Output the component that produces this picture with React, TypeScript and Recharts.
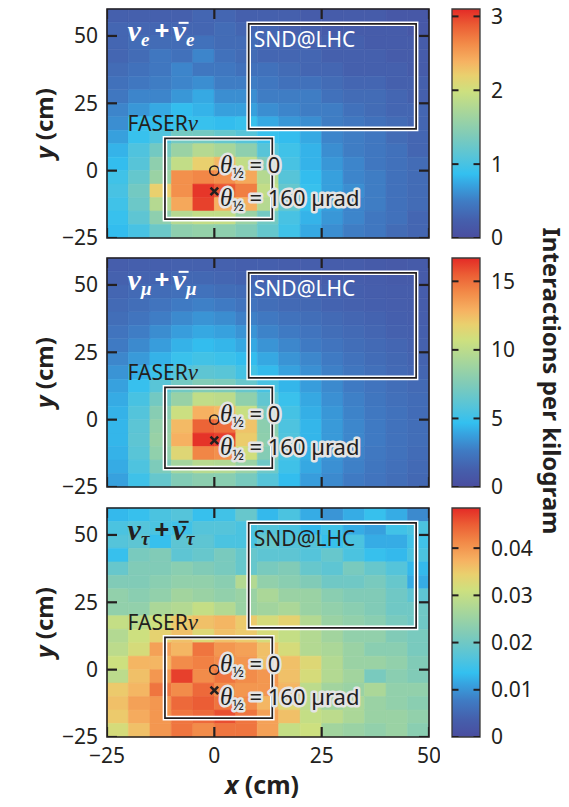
import React from 'react';
import { ComposedChart, XAxis, YAxis, ReferenceArea, ReferenceDot, Scatter } from 'recharts';

// 5 cm bins across the LHC tunnel cross-section
const xEdges = [-25, -20, -15, -10, -5, 0, 5, 10, 15, 20, 25, 30, 35, 40, 45, 50];
const yEdges = [-25, -20, -15, -10, -5, 0, 5, 10, 15, 20, 25, 30, 35, 40, 45, 50, 55, 60];
const xTicks = [-25, 0, 25, 50];
const yTicks = [-25, 0, 25, 50];

// interactions per kg; rows run from y = 55..60 cm (top) down to y = -25..-20 cm
const nuE = [
  [0.25, 0.25, 0.25, 0.25, 0.3, 0.3, 0.25, 0.25, 0.25, 0.2, 0.2, 0.2, 0.2, 0.15, 0.15],
  [0.3, 0.3, 0.3, 0.3, 0.3, 0.35, 0.3, 0.3, 0.25, 0.25, 0.2, 0.2, 0.2, 0.2, 0.15],
  [0.3, 0.35, 0.35, 0.35, 0.4, 0.35, 0.35, 0.3, 0.3, 0.25, 0.25, 0.25, 0.2, 0.2, 0.2],
  [0.3, 0.35, 0.45, 0.4, 0.55, 0.4, 0.35, 0.3, 0.3, 0.3, 0.25, 0.25, 0.25, 0.2, 0.2],
  [0.35, 0.4, 0.45, 0.55, 0.45, 0.45, 0.4, 0.4, 0.35, 0.3, 0.3, 0.25, 0.25, 0.25, 0.2],
  [0.4, 0.45, 0.5, 0.55, 0.6, 0.5, 0.5, 0.45, 0.4, 0.4, 0.35, 0.3, 0.3, 0.25, 0.25],
  [0.45, 0.55, 0.55, 0.65, 0.75, 0.6, 0.6, 0.5, 0.5, 0.5, 0.4, 0.35, 0.35, 0.3, 0.25],
  [0.55, 0.65, 0.75, 0.85, 0.8, 0.7, 0.7, 0.6, 0.55, 0.5, 0.5, 0.4, 0.35, 0.3, 0.3],
  [0.6, 0.85, 0.85, 0.9, 0.9, 0.85, 0.9, 0.75, 0.65, 0.6, 0.5, 0.45, 0.4, 0.35, 0.3],
  [0.7, 0.9, 1.05, 1.3, 1.3, 1.2, 1.1, 0.9, 0.85, 0.75, 0.55, 0.5, 0.45, 0.35, 0.3],
  [0.8, 1.05, 1.3, 1.6, 1.8, 1.7, 1.5, 1.1, 0.95, 0.8, 0.6, 0.5, 0.45, 0.4, 0.3],
  [0.85, 1.1, 1.5, 1.9, 2.2, 2.35, 1.9, 1.4, 1.0, 0.8, 0.65, 0.55, 0.45, 0.4, 0.35],
  [0.95, 1.2, 1.6, 2.6, 2.65, 2.6, 2.45, 1.8, 1.1, 0.85, 0.7, 0.55, 0.5, 0.4, 0.35],
  [1.0, 1.3, 2.2, 2.6, 3.05, 2.9, 2.7, 1.9, 1.2, 0.9, 0.7, 0.6, 0.5, 0.4, 0.35],
  [0.95, 1.25, 1.8, 2.45, 3.0, 2.4, 2.4, 1.8, 1.2, 0.9, 0.7, 0.55, 0.5, 0.4, 0.35],
  [0.9, 1.15, 1.5, 1.8, 1.9, 1.9, 1.6, 1.3, 1.0, 0.8, 0.65, 0.55, 0.45, 0.4, 0.3],
  [0.85, 1.0, 1.25, 1.5, 1.55, 1.5, 1.4, 1.2, 0.95, 0.75, 0.6, 0.5, 0.45, 0.35, 0.3],
];

const nuMu = [
  [1.2, 1.3, 1.3, 1.4, 1.4, 1.4, 1.3, 1.3, 1.2, 1.2, 1.1, 1.1, 1.0, 0.9, 1.0],
  [1.4, 1.5, 1.5, 1.7, 1.7, 1.6, 1.5, 1.4, 1.4, 1.3, 1.2, 1.2, 1.1, 1.0, 1.0],
  [1.6, 1.8, 1.9, 2.1, 2.2, 2.0, 1.9, 1.7, 1.6, 1.5, 1.4, 1.3, 1.2, 1.1, 1.1],
  [1.8, 2.0, 2.3, 2.6, 2.8, 2.6, 2.3, 2.0, 1.8, 1.7, 1.5, 1.4, 1.3, 1.2, 1.1],
  [2.0, 2.3, 2.7, 3.1, 3.4, 3.2, 2.8, 2.5, 2.2, 2.0, 1.8, 1.6, 1.5, 1.3, 1.2],
  [2.3, 2.7, 3.2, 3.7, 4.0, 3.8, 3.4, 2.9, 2.6, 2.3, 2.0, 1.8, 1.6, 1.4, 1.3],
  [2.6, 3.1, 3.7, 4.3, 4.6, 4.4, 4.0, 3.4, 3.0, 2.6, 2.3, 2.0, 1.8, 1.6, 1.4],
  [3.0, 3.6, 4.3, 4.9, 5.2, 5.0, 4.6, 4.0, 3.4, 3.0, 2.6, 2.2, 1.9, 1.7, 1.5],
  [3.4, 4.2, 5.0, 5.8, 6.2, 6.0, 5.3, 4.5, 3.8, 3.3, 2.8, 2.4, 2.1, 1.8, 1.6],
  [3.8, 4.8, 6.0, 7.0, 7.6, 7.4, 6.6, 5.4, 4.4, 3.7, 3.1, 2.6, 2.3, 2.0, 1.8],
  [4.1, 5.4, 7.0, 8.5, 10.2, 10.0, 8.2, 6.3, 4.9, 4.0, 3.3, 2.8, 2.4, 2.1, 1.9],
  [4.3, 5.8, 7.8, 10.6, 12.9, 12.6, 10.5, 7.2, 5.3, 4.2, 3.5, 2.9, 2.5, 2.2, 1.9],
  [4.4, 6.1, 8.3, 12.6, 15.3, 15.0, 12.3, 8.0, 5.6, 4.4, 3.6, 3.0, 2.6, 2.2, 2.0],
  [4.4, 6.2, 8.5, 12.9, 16.5, 16.2, 12.0, 8.1, 5.7, 4.4, 3.6, 3.0, 2.6, 2.2, 2.0],
  [4.3, 6.0, 8.2, 11.4, 14.3, 14.0, 10.8, 7.7, 5.5, 4.3, 3.5, 2.9, 2.5, 2.2, 1.9],
  [4.1, 5.6, 7.4, 9.0, 9.8, 9.6, 8.6, 6.8, 5.1, 4.0, 3.3, 2.8, 2.4, 2.1, 1.8],
  [3.8, 5.1, 6.5, 7.6, 8.0, 7.9, 7.2, 5.9, 4.6, 3.7, 3.1, 2.6, 2.3, 2.0, 1.7],
];

const nuTau = [
  [0.013, 0.014, 0.016, 0.017, 0.014, 0.015, 0.019, 0.013, 0.016, 0.012, 0.010, 0.012, 0.014, 0.012, 0.009],
  [0.016, 0.017, 0.016, 0.015, 0.017, 0.017, 0.016, 0.017, 0.016, 0.013, 0.015, 0.012, 0.011, 0.015, 0.016],
  [0.017, 0.018, 0.014, 0.018, 0.018, 0.016, 0.016, 0.019, 0.017, 0.017, 0.014, 0.016, 0.012, 0.012, 0.015],
  [0.014, 0.021, 0.022, 0.018, 0.019, 0.021, 0.019, 0.018, 0.018, 0.017, 0.019, 0.016, 0.014, 0.013, 0.016],
  [0.019, 0.022, 0.022, 0.023, 0.022, 0.021, 0.019, 0.021, 0.022, 0.019, 0.018, 0.021, 0.019, 0.017, 0.013],
  [0.022, 0.022, 0.023, 0.024, 0.024, 0.023, 0.028, 0.024, 0.023, 0.022, 0.020, 0.020, 0.021, 0.019, 0.012],
  [0.024, 0.023, 0.024, 0.026, 0.025, 0.024, 0.025, 0.027, 0.025, 0.025, 0.023, 0.022, 0.022, 0.020, 0.018],
  [0.024, 0.024, 0.027, 0.028, 0.030, 0.028, 0.025, 0.026, 0.027, 0.025, 0.024, 0.023, 0.022, 0.020, 0.020],
  [0.030, 0.029, 0.031, 0.035, 0.036, 0.037, 0.035, 0.032, 0.034, 0.028, 0.025, 0.024, 0.023, 0.021, 0.020],
  [0.028, 0.031, 0.034, 0.036, 0.033, 0.036, 0.035, 0.032, 0.030, 0.028, 0.026, 0.024, 0.024, 0.022, 0.021],
  [0.029, 0.032, 0.039, 0.037, 0.043, 0.040, 0.039, 0.036, 0.032, 0.028, 0.027, 0.025, 0.023, 0.023, 0.021],
  [0.031, 0.037, 0.037, 0.041, 0.042, 0.041, 0.040, 0.036, 0.036, 0.033, 0.028, 0.025, 0.025, 0.024, 0.022],
  [0.029, 0.036, 0.040, 0.047, 0.041, 0.043, 0.041, 0.040, 0.036, 0.032, 0.028, 0.026, 0.021, 0.023, 0.022],
  [0.035, 0.037, 0.043, 0.041, 0.044, 0.041, 0.040, 0.040, 0.037, 0.029, 0.026, 0.025, 0.027, 0.024, 0.024],
  [0.036, 0.039, 0.040, 0.044, 0.045, 0.043, 0.041, 0.037, 0.033, 0.029, 0.026, 0.027, 0.025, 0.024, 0.023],
  [0.035, 0.038, 0.040, 0.043, 0.044, 0.046, 0.043, 0.039, 0.036, 0.030, 0.029, 0.027, 0.025, 0.025, 0.024],
  [0.032, 0.036, 0.040, 0.043, 0.041, 0.043, 0.043, 0.039, 0.030, 0.031, 0.026, 0.025, 0.024, 0.025, 0.023],
];

// colour scale ranges and their tick values
const eRange = [0, 3.1];
const muRange = [0, 16.7];
const tauRange = [0, 0.0485];
const eTicks = [0, 1, 2, 3];
const muTicks = [0, 5, 10, 15];
const tauTicks = [0, 0.01, 0.02, 0.03, 0.04];

// detector front faces (cm) and beam-axis markers
const faserNu = { x1: -11.5, x2: 13.5, y1: -18, y2: 12 };
const sndLhc = { x1: 8, x2: 47, y1: 15.5, y2: 54.5 };
const onAxis = [{ x: 0, y: 0 }];
const offAxis = [{ x: 0, y: -7.7 }];

const X_DOM = [-25, 50];
const Y_DOM = [-25, 60];

const FONT = '"Noto Sans", "Open Sans", sans-serif';
const SERIF = '"Liberation Serif", "DejaVu Serif", serif';
const INK = '#231f20';

const cmap: [number, string][] = [
  [0.0, '#4a4d9f'],
  [0.08, '#4560ad'],
  [0.16, '#3f7cc4'],
  [0.23, '#37a2df'],
  [0.28, '#33c0f0'],
  [0.35, '#55c4da'],
  [0.45, '#80cbb8'],
  [0.55, '#a8d69a'],
  [0.64, '#cde07f'],
  [0.71, '#e9d06e'],
  [0.77, '#f6b262'],
  [0.85, '#f28a48'],
  [0.93, '#eb5c34'],
  [1.0, '#e42a26'],
];

const hex = (h: string) => [1, 3, 5].map((i) => parseInt(h.slice(i, i + 2), 16));

function colorFor(v: number, max: number) {
  const t = Math.max(0, Math.min(1, v / max));
  let i = 1;
  while (i < cmap.length - 1 && cmap[i][0] < t) i++;
  const [t0, c0] = cmap[i - 1];
  const [t1, c1] = cmap[i];
  const f = (t - t0) / (t1 - t0);
  const a = hex(c0);
  const b = hex(c1);
  const c = a.map((ch, k) => Math.round(ch + (b[k] - ch) * f));
  return `rgb(${c[0]},${c[1]},${c[2]})`;
}

function cellsOf(grid: number[][]) {
  const n = grid.length;
  return grid.flatMap((row, r) =>
    row.map((v, c) => ({ x1: xEdges[c], x2: xEdges[c + 1], y1: yEdges[n - 1 - r], y2: yEdges[n - r], v }))
  );
}

const fmt = (v: number) => (v < 0 ? `\u2212${-v}` : `${v}`);
const tickStyle = { fill: INK, fontSize: 21, fontFamily: FONT };

// short inward tick drawn at a scaled point
const tickMark = (dx: number, dy: number, w = 2.2) => (p: any) => (
  <line x1={p.cx} y1={p.cy} x2={p.cx + dx} y2={p.cy + dy} stroke={INK} strokeWidth={w} />
);

// tick anchor points along each edge of the frame
const bottomTicks = xTicks.map((x) => ({ x, y: Y_DOM[0] }));
const topTicks = xTicks.map((x) => ({ x, y: Y_DOM[1] }));
const leftTicks = yTicks.map((y) => ({ x: X_DOM[0], y }));
const rightTicks = yTicks.map((y) => ({ x: X_DOM[1], y }));

function YTitle(props: any) {
  const vb = props.viewBox;
  const cx = vb.x + 43;
  const cy = vb.y + vb.height / 2;
  return (
    <text x={cx} y={cy} transform={`rotate(-90 ${cx} ${cy})`} textAnchor="middle" dominantBaseline="central"
      fontFamily={FONT} fontWeight={700} fontSize={24} fill={INK}>
      <tspan fontStyle="italic">y</tspan> (cm)
    </text>
  );
}

function XTitle(props: any) {
  const vb = props.viewBox;
  return (
    <text x={vb.x + vb.width / 2 - 6} y={vb.y + 57} textAnchor="middle" fontFamily={FONT} fontWeight={700}
      fontSize={25} fill={INK}>
      <tspan fontStyle="italic">x</tspan> (cm)
    </text>
  );
}

const Ring = (p: any) => <circle cx={p.cx} cy={p.cy} r={4.6} fill="none" stroke={INK} strokeWidth={1.6} />;
const Cross = (p: any) => (
  <path d={`M${p.cx - 3.8},${p.cy - 3.8}L${p.cx + 3.8},${p.cy + 3.8}M${p.cx + 3.8},${p.cy - 3.8}L${p.cx - 3.8},${p.cy + 3.8}`}
    stroke={INK} strokeWidth={2.6} />
);

function Theta({ cx, cy, rest }: any) {
  return (
    <text x={cx} y={cy} fontFamily={FONT} fontSize={22} fill={INK} stroke="#e4e4e4" strokeWidth={5}
      strokeLinejoin="round" paintOrder="stroke">
      <tspan fontFamily={SERIF} fontStyle="italic" fontSize={25}>θ</tspan>
      <tspan fontSize={15} dy={5}>½</tspan>
      <tspan dy={-5}>{rest}</tspan>
    </text>
  );
}

// ν_l + ν̄_l, with the antineutrino bar drawn as a short rule
function FlavourLabel({ cx, cy, sub, color }: any) {
  const serif = { fontFamily: SERIF, fontStyle: 'italic', fontWeight: 700 } as any;
  return (
    <g fill={color}>
      <text x={cx} y={cy} {...serif} fontSize={30}>
        <tspan>ν</tspan>
        <tspan fontSize={19} dy={5}>{sub}</tspan>
      </text>
      <text x={cx + 27} y={cy - 1} fontFamily={FONT} fontWeight={700} fontSize={26}>+</text>
      <text x={cx + 45} y={cy} {...serif} fontSize={30}>
        <tspan>ν</tspan>
        <tspan fontSize={19} dy={5}>{sub}</tspan>
      </text>
      <line x1={cx + 51} x2={cx + 61} y1={cy - 18.5} y2={cy - 18.5} stroke={color} strokeWidth={2} />
    </g>
  );
}

function Panel({ grid, range, sub, light, last }: any) {
  const max = range[1];
  const cells = cellsOf(grid);
  const ink = light ? '#ffffff' : INK;
  return (
    <ComposedChart width={440} height={last ? 308 : 258} margin={{ top: 9, right: 11, bottom: 0, left: 0 }}>
      {cells.map((c, i) => {
        const f = colorFor(c.v, max);
        return (
          <ReferenceArea key={`c${i}`} x1={c.x1} x2={c.x2} y1={c.y1} y2={c.y2} fill={f} fillOpacity={1}
            stroke={f} strokeWidth={0.6} ifOverflow="visible" />
        );
      })}
      {[faserNu, sndLhc].map((b, i) => (
        <ReferenceArea key={`w${i}`} {...b} fill="none" fillOpacity={0} stroke="#ffffff" strokeWidth={4.6} ifOverflow="visible" />
      ))}
      {[faserNu, sndLhc].map((b, i) => (
        <ReferenceArea key={`d${i}`} {...b} fill="none" fillOpacity={0} stroke={INK} strokeWidth={1.7} ifOverflow="visible" />
      ))}
      <ReferenceArea x1={X_DOM[0]} x2={X_DOM[1]} y1={Y_DOM[0]} y2={Y_DOM[1]} fill="none" fillOpacity={0}
        stroke={INK} strokeWidth={1.6} ifOverflow="visible" />
      <XAxis type="number" dataKey="x" domain={X_DOM} ticks={xTicks} allowDataOverflow height={last ? 70 : 20}
        tickSize={-10} tickMargin={21} tick={last ? tickStyle : false} tickFormatter={fmt}
        axisLine={false} tickLine={false} label={last ? { content: XTitle } : undefined} />
      <YAxis type="number" dataKey="y" domain={Y_DOM} ticks={yTicks} allowDataOverflow width={107}
        tickSize={-10} tickMargin={19} tick={tickStyle} tickFormatter={fmt} axisLine={false}
        tickLine={false} label={{ content: YTitle }} />
      <Scatter data={bottomTicks} dataKey="y" shape={tickMark(0, -10)} isAnimationActive={false} />
      <Scatter data={topTicks} dataKey="y" shape={tickMark(0, 10)} isAnimationActive={false} />
      <Scatter data={leftTicks} dataKey="y" shape={tickMark(10, 0)} isAnimationActive={false} />
      <Scatter data={rightTicks} dataKey="y" shape={tickMark(-10, 0)} isAnimationActive={false} />
      <Scatter data={onAxis} dataKey="y" shape={Ring} isAnimationActive={false} />
      <Scatter data={offAxis} dataKey="y" shape={Cross} isAnimationActive={false} />
      <ReferenceDot x={-20.2} y={48} r={0} ifOverflow="visible"
        shape={(p: any) => <FlavourLabel cx={p.cx} cy={p.cy} sub={sub} color={ink} />} />
      <ReferenceDot x={9.2} y={46} r={0} ifOverflow="visible"
        shape={(p: any) => (
          <text x={p.cx} y={p.cy} fontFamily={FONT} fontSize={21} fill={ink}>SND@LHC</text>
        )} />
      <ReferenceDot x={-20.2} y={14.7} r={0} ifOverflow="visible"
        shape={(p: any) => (
          <text x={p.cx} y={p.cy} fontFamily={FONT} fontSize={21} fill={INK}>
            FASER<tspan fontFamily={SERIF} fontStyle="italic" fontSize={23}>ν</tspan>
          </text>
        )} />
      <ReferenceDot x={1.3} y={-0.9} r={0} ifOverflow="visible"
        shape={(p: any) => <Theta cx={p.cx} cy={p.cy} rest=" = 0" />} />
      <ReferenceDot x={1.3} y={-13} r={0} ifOverflow="visible"
        shape={(p: any) => <Theta cx={p.cx} cy={p.cy} rest=" = 160 µrad" />} />
    </ComposedChart>
  );
}

function ColorBar({ range, ticks, id }: any) {
  const max = range[1];
  const left = ticks.map((y: number) => ({ x: 0, y }));
  const right = ticks.map((y: number) => ({ x: 1, y }));
  return (
    <ComposedChart width={129} height={258} margin={{ top: 9, right: 0, bottom: 20, left: 0 }}>
      <defs>
        <linearGradient id={id} x1="0" y1="1" x2="0" y2="0">
          {cmap.map(([t, c]) => (
            <stop key={t} offset={t} stopColor={c} />
          ))}
        </linearGradient>
      </defs>
      <ReferenceArea x1={0} x2={1} y1={0} y2={max} fill={`url(#${id})`} fillOpacity={1} stroke="#3a3a3a"
        strokeWidth={1.3} ifOverflow="visible" />
      <XAxis type="number" dataKey="x" domain={[0, 1]} hide allowDataOverflow />
      <YAxis type="number" dataKey="y" domain={[0, max]} ticks={ticks} allowDataOverflow width={12} tick={false}
        axisLine={false} tickLine={false} />
      <YAxis yAxisId="r" orientation="right" type="number" domain={[0, max]} ticks={ticks} allowDataOverflow
        width={89} tickSize={-6} tickMargin={17} tick={tickStyle} axisLine={false} tickLine={false} />
      <Scatter data={left} dataKey="y" shape={tickMark(6.5, 0, 2)} isAnimationActive={false} />
      <Scatter data={right} dataKey="y" shape={tickMark(-6.5, 0, 2)} isAnimationActive={false} />
    </ComposedChart>
  );
}

const tops = [0, 249, 499];

export default function App() {
  return (
    <div style={{ position: 'absolute', left: 0, top: 0, width: 569, height: 807, background: '#ffffff' }}>
      <div style={{ position: 'absolute', left: 0, top: tops[0] }}>
        <Panel grid={nuE} range={eRange} sub="e" light />
      </div>
      <div style={{ position: 'absolute', left: 440, top: tops[0] }}>
        <ColorBar range={eRange} ticks={eTicks} id="cbE" />
      </div>
      <div style={{ position: 'absolute', left: 0, top: tops[1] }}>
        <Panel grid={nuMu} range={muRange} sub="μ" light />
      </div>
      <div style={{ position: 'absolute', left: 440, top: tops[1] }}>
        <ColorBar range={muRange} ticks={muTicks} id="cbMu" />
      </div>
      <div style={{ position: 'absolute', left: 0, top: tops[2] }}>
        <Panel grid={nuTau} range={tauRange} sub="τ" last />
      </div>
      <div style={{ position: 'absolute', left: 440, top: tops[2] }}>
        <ColorBar range={tauRange} ticks={tauTicks} id="cbTau" />
      </div>
      <svg width={569} height={807} style={{ position: 'absolute', left: 0, top: 0, pointerEvents: 'none' }}>
        <text x={552} y={381} transform="rotate(90 552 381)" textAnchor="middle" dominantBaseline="central"
          fontFamily={FONT} fontWeight={700} fontSize={24} fill={INK}>
          Interactions per kilogram
        </text>
      </svg>
    </div>
  );
}
